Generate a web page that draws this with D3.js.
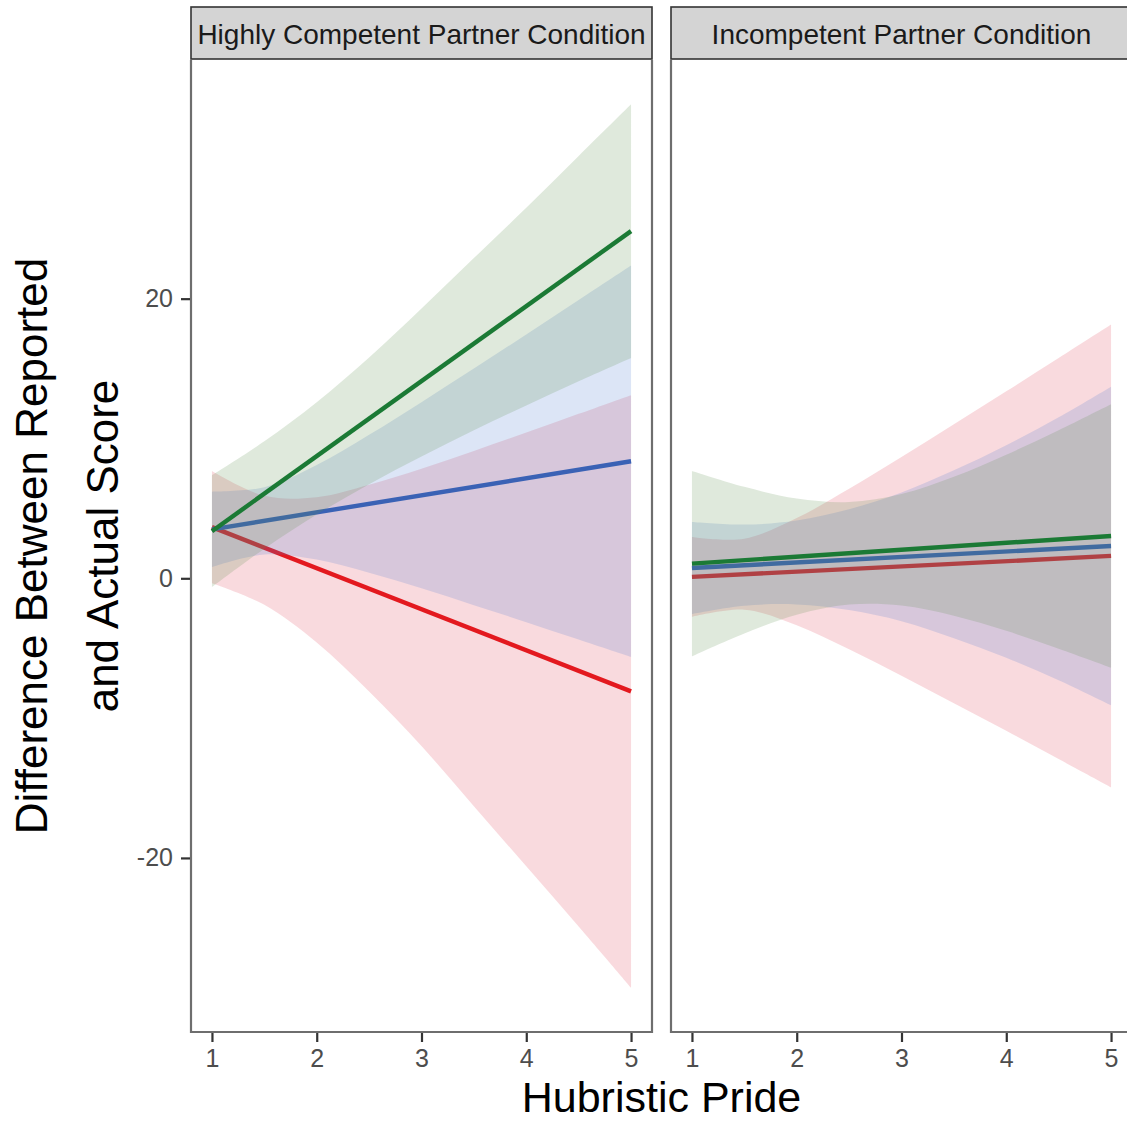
<!DOCTYPE html>
<html>
<head>
<meta charset="utf-8">
<script src="https://cdn.jsdelivr.net/npm/d3@7"></script>
<style>
  html, body { margin: 0; padding: 0; background: #ffffff; }
  svg { display: block; }
  text { font-family: "Liberation Sans", Arial, Helvetica, sans-serif; }
</style>
</head>
<body>
<svg id="chart" width="1127" height="1121"></svg>
<script>
// ---------------- data ----------------
const panelNames = ["Highly Competent Partner Condition", "Incompetent Partner Condition"];
const seriesNames = ["red", "blue", "green"];
const xTicks = [1, 2, 3, 4, 5];
const yTicks = [-20, 0, 20];
const xTitle = "Hubristic Pride";
const yTitleLines = ["Difference Between Reported", "and Actual Score"];

// x positions of fitted line end points and of the band readings
const lineX = [1, 5];
const bandX = [1, 1.5, 2, 2.5, 3, 3.5, 4, 4.5, 5];

// Highly Competent Partner Condition
const hcRedFit = [3.66, -8.09];
const hcRedUpper = [7.68, 5.9, 5.80, 6.69, 7.84, 9.11, 10.42, 11.76, 13.10];
const hcRedLower = [-0.36, -1.9, -4.6, -8.1, -12.0, -16.3, -20.6, -24.9, -29.28];
const hcBlueFit = [3.5, 8.37];
const hcBlueUpper = [6.19, 6.51, 8.10, 10.26, 12.60, 15.00, 17.44, 19.90, 22.37];
const hcBlueLower = [0.81, 1.71, 1.34, 0.40, -0.72, -1.92, -3.14, -4.38, -5.63];
const hcGreenFit = [3.37, 24.83];
const hcGreenUpper = [7.37, 9.8, 12.6, 15.8, 19.3, 22.9, 26.5, 30.2, 33.90];
const hcGreenLower = [-0.63, 2.12, 4.56, 6.73, 8.71, 10.58, 12.36, 14.09, 15.76];

// Incompetent Partner Condition
const icRedFit = [0.10, 1.60];
const icRedUpper = [2.96, 2.83, 4.31, 6.40, 8.67, 11.01, 13.37, 15.75, 18.15];
const icRedLower = [-2.76, -2.25, -3.35, -5.08, -6.97, -8.93, -10.91, -12.93, -14.95];
const icBlueFit = [0.74, 2.31];
const icBlueUpper = [4.03, 3.84, 4.13, 4.93, 6.13, 7.72, 9.52, 11.51, 13.70];
const icBlueLower = [-2.55, -1.96, -1.87, -2.27, -3.07, -4.28, -5.68, -7.29, -9.08];
const icGreenFit = [1.05, 3.03];
const icGreenUpper = [7.68, 6.54, 5.71, 5.46, 6.03, 7.26, 8.84, 10.59, 12.45];
const icGreenLower = [-5.58, -3.94, -2.61, -1.88, -1.95, -2.68, -3.76, -5.03, -6.39];

// ---------------- styles ----------------
const lineColor = { red: "#e3191f", blue: "#3a62b5", green: "#1b7a35" };
const fillColor = { red: "rgb(225,70,90)", blue: "rgb(79,127,208)", green: "rgb(95,145,80)" };
const fillAlpha = 0.2;

// assemble panels
const panels = [
  { name: panelNames[0], range: [191, 652], series: [
      { key: "red", fit: hcRedFit, up: hcRedUpper, lo: hcRedLower },
      { key: "blue", fit: hcBlueFit, up: hcBlueUpper, lo: hcBlueLower },
      { key: "green", fit: hcGreenFit, up: hcGreenUpper, lo: hcGreenLower } ] },
  { name: panelNames[1], range: [671, 1132], series: [
      { key: "red", fit: icRedFit, up: icRedUpper, lo: icRedLower },
      { key: "blue", fit: icBlueFit, up: icBlueUpper, lo: icBlueLower },
      { key: "green", fit: icGreenFit, up: icGreenUpper, lo: icGreenLower } ] }
];

const svg = d3.select("#chart");
const panelTop = 60, panelBottom = 1032;
const y = d3.scaleLinear().domain([-32.45, 37.07]).range([panelBottom, panelTop]);

panels.forEach((p, pi) => {
  const x = d3.scaleLinear().domain([0.8, 5.2]).range(p.range);
  const g = svg.append("g");

  const area = d3.area()
    .x(d => x(d.x)).y0(d => y(d.lo)).y1(d => y(d.up))
    .curve(d3.curveCatmullRom.alpha(0.5));
  const line = d3.line().x(d => x(d.x)).y(d => y(d.v));

  // each group: ribbon then line (ggplot geom_smooth order)
  p.series.forEach(s => {
    const band = bandX.map((bx, i) => ({ x: bx, up: s.up[i], lo: s.lo[i] }));
    g.append("path").datum(band)
      .attr("d", area)
      .attr("fill", fillColor[s.key])
      .attr("fill-opacity", fillAlpha)
      .attr("stroke", "none");
    const fit = lineX.map((lx, i) => ({ x: lx, v: s.fit[i] }));
    g.append("path").datum(fit)
      .attr("d", line)
      .attr("fill", "none")
      .attr("stroke", lineColor[s.key])
      .attr("stroke-width", 4.4);
  });

  // panel border (left, right, bottom)
  const [x0, x1] = p.range;
  g.append("path")
    .attr("d", `M${x0},${panelTop} L${x0},${panelBottom} L${x1},${panelBottom} L${x1},${panelTop}`)
    .attr("fill", "none").attr("stroke", "#6e6e6e").attr("stroke-width", 2.2);

  // strip
  g.append("rect").attr("x", x0).attr("y", 7).attr("width", x1 - x0).attr("height", 52)
    .attr("fill", "#d4d4d4").attr("stroke", "#333333").attr("stroke-width", 1.6);
  g.append("text").attr("x", (x0 + x1) / 2).attr("y", 43.5)
    .attr("text-anchor", "middle").attr("font-size", 28).attr("fill", "#1a1a1a")
    .text(p.name);

  // x axis
  const xAxis = d3.axisBottom(x).tickValues(xTicks).tickFormat(d => String(d))
    .tickSize(9).tickPadding(7);
  const ax = g.append("g").attr("transform", `translate(0,${panelBottom + 1})`).call(xAxis);
  ax.select(".domain").remove();
  ax.selectAll(".tick line").attr("stroke", "#333333").attr("stroke-width", 2.2);
  ax.selectAll(".tick text").attr("font-size", 25).attr("fill", "#4d4d4d")
    .attr("font-family", "Liberation Sans, Arial, sans-serif");

  // y axis only on first panel
  if (pi === 0) {
    const yAxis = d3.axisLeft(y).tickValues(yTicks).tickFormat(d => String(d))
      .tickSize(9).tickPadding(8);
    const ay = g.append("g").attr("transform", `translate(${x0 - 1},0)`).call(yAxis);
    ay.select(".domain").remove();
    ay.selectAll(".tick line").attr("stroke", "#333333").attr("stroke-width", 2.2);
    ay.selectAll(".tick text").attr("font-size", 25).attr("fill", "#4d4d4d")
      .attr("font-family", "Liberation Sans, Arial, sans-serif");
  }
});

// axis titles
svg.append("text").attr("x", 661.5).attr("y", 1112)
  .attr("text-anchor", "middle").attr("font-size", 43).attr("fill", "#000")
  .text(xTitle);

const midY = (panelTop + panelBottom) / 2;
const yBase = [47, 118];
yTitleLines.forEach((t, i) => {
  svg.append("text")
    .attr("transform", `translate(${yBase[i]},${midY}) rotate(-90)`)
    .attr("text-anchor", "middle").attr("font-size", 44).attr("fill", "#000")
    .text(t);
});
</script>
</body>
</html>
